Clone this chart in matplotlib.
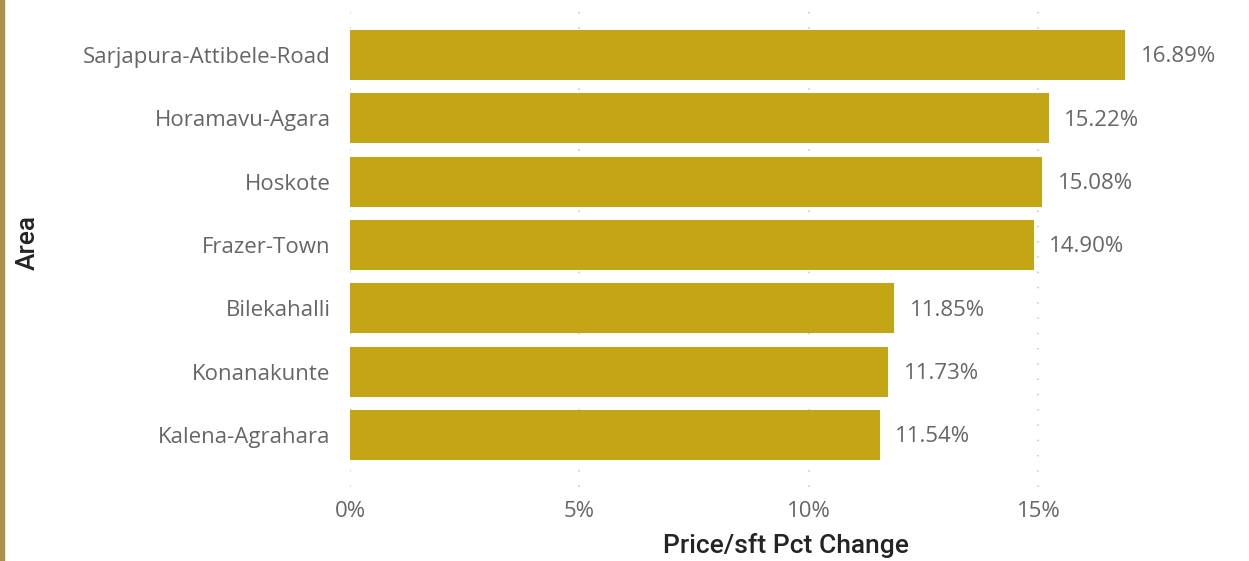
import numpy as np
import matplotlib.pyplot as plt
from matplotlib.patches import Rectangle

areas = ["Sarjapura-Attibele-Road", "Horamavu-Agara", "Hoskote", "Frazer-Town",
         "Bilekahalli", "Konanakunte", "Kalena-Agrahara"]
pct_change = [16.89, 15.22, 15.08, 14.90, 11.85, 11.73, 11.54]
x_ticks = [0, 5, 10, 15]

bar_color = "#C4A516"
text_color = "#666666"
title_color = "#252423"

fig = plt.figure(figsize=(12.49, 5.61), dpi=100)
ax = fig.add_axes([350 / 1249, 74 / 561, 872 / 1249, 487 / 561])

y = np.arange(len(areas))
ax.barh(y, pct_change, height=0.79, color=bar_color, zorder=2)

for yi, v in zip(y, pct_change):
    ax.text(v + 0.34, yi + 0.03, f"{v:.2f}%", va="center", ha="left",
            fontsize=16, color=text_color, family="Open Sans")

ax.set_xlim(0, 19)
ax.set_ylim(6.82, -0.87)
ax.set_yticks(y)
ax.set_yticklabels(areas, fontsize=16, color=text_color, family="Open Sans")
ax.set_xticks(x_ticks)
ax.set_xticklabels([f"{t}%" for t in x_ticks], fontsize=16, color=text_color,
                   family="Open Sans")
ax.tick_params(length=0)
ax.tick_params(axis="y", pad=14)
ax.tick_params(axis="x", pad=10)

ax.grid(axis="x", linestyle=(0, (1, 9)), color="#C4C4C4", linewidth=1.1, zorder=0)
ax.grid(axis="y", visible=False)
for s in ax.spines.values():
    s.set_visible(False)

ax.set_xlabel("Price/sft Pct Change", fontsize=19, color=title_color,
              family="Roboto", fontweight="medium", labelpad=8)
fig.text(28 / 1249, 1 - 243 / 561, "Area", rotation=90, fontsize=19,
         color=title_color, family="Roboto", fontweight="medium",
         ha="center", va="center")

# left accent strip
fig.patches.append(Rectangle((0, 0), 4 / 1249, 1, transform=fig.transFigure,
                             color="#B08E50", zorder=5))

fig.savefig("out.png", dpi=100)
